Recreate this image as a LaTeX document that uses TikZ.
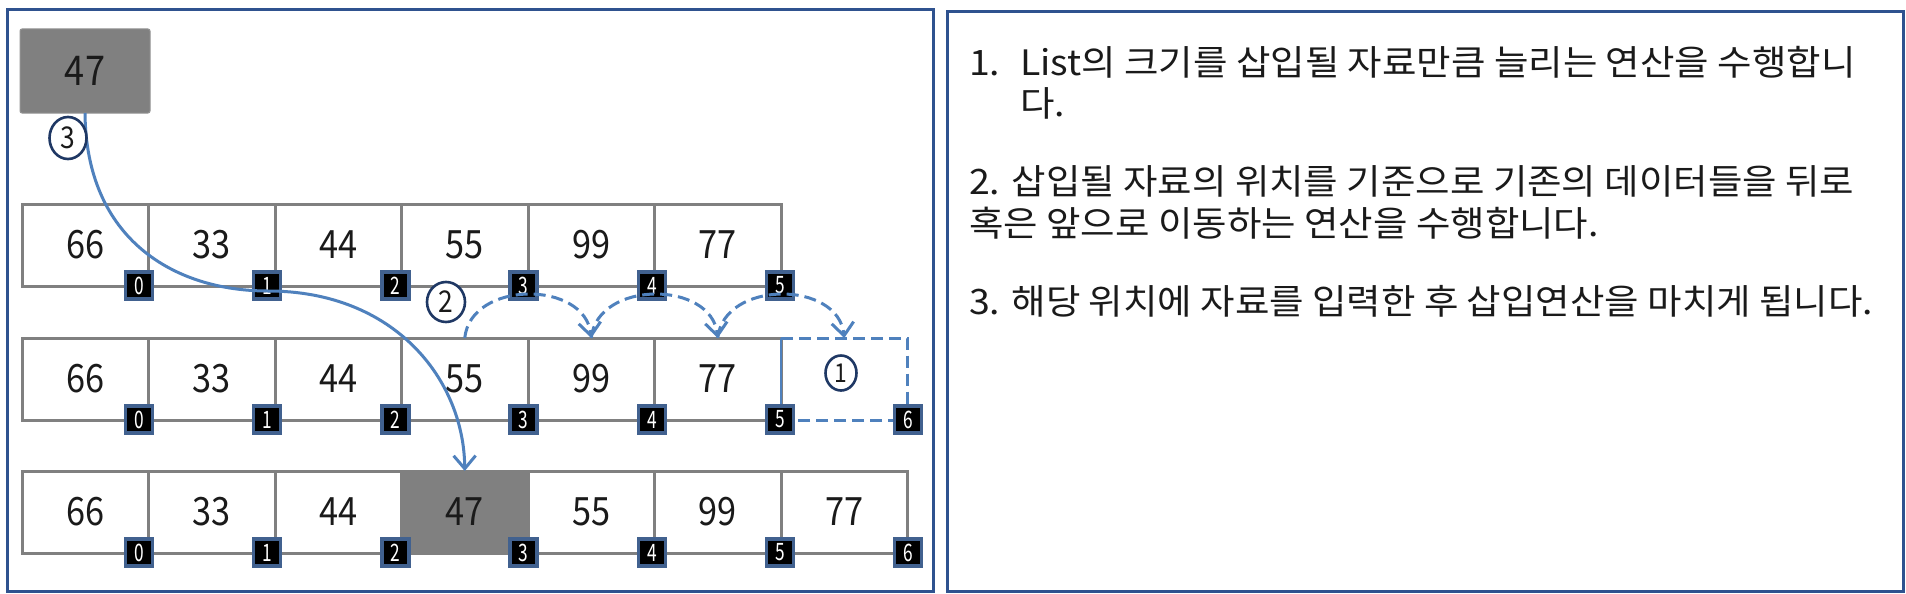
\documentclass[tikz,border=0pt]{standalone}
\usepackage{fontspec}
\setmainfont{Noto Sans CJK KR}
\newfontfamily\korfont[FakeStretch=1.07]{Noto Sans CJK KR}
\newfontfamily\numfont[FakeStretch=0.88]{Noto Sans CJK KR}
\newfontfamily\badgefont[FakeStretch=0.72]{Noto Sans CJK KR}
\usetikzlibrary{arrows.meta,shapes.geometric}
\definecolor{panelblue}{HTML}{2F528F}
\definecolor{arrowblue}{HTML}{4F81BD}
\definecolor{badgeblue}{HTML}{41618F}
\definecolor{cellgray}{HTML}{808080}
\definecolor{circblue}{HTML}{1F3864}
\definecolor{txt}{HTML}{1A1A1A}
\begin{document}
\begin{tikzpicture}[x=1pt,y=-1pt,
  panel/.style={draw=panelblue,line width=3pt,inner sep=0pt,outer sep=0pt,anchor=north west},
  cell/.style={draw=cellgray,line width=3pt,minimum width=126.5pt,minimum height=82pt,
    inner sep=0pt,outer sep=0pt,anchor=north west,text=txt,font=\numfont\fontsize{39}{40}\selectfont},
  graycell/.style={cell,fill=cellgray},
  emptycell/.style={minimum width=126.5pt,minimum height=82pt,inner sep=0pt,outer sep=0pt,anchor=north west},
  badge/.style={draw=badgeblue,line width=3.5pt,fill=black,minimum width=27pt,minimum height=27pt,
    inner sep=0pt,text=white,font=\badgefont\fontsize{24}{24}\selectfont},
  circnum/.style={ellipse,draw=circblue,line width=2.6pt,fill=white,inner sep=0pt,text=txt,
    font=\numfont\fontsize{30}{30}\selectfont},
  mainarrow/.style={draw=arrowblue,line width=3pt,-{Straight Barb[length=13pt,width=22pt,line width=3pt]}},
  dasharrow/.style={draw=arrowblue,line width=3pt,dash pattern=on 12pt off 6pt,
    -{Straight Barb[length=13pt,width=22pt,line width=3pt]}},
  korean/.style={inner sep=0pt,anchor=base west,text=txt,font=\korfont\fontsize{35}{40}\selectfont}
]
\fill[white] (0,0) rectangle (1906,594);
\useasboundingbox (0,0) rectangle (1906,594);

% panels
\node[panel,minimum width=926pt,minimum height=581pt] (leftpanel) at (7,10) {};
\node[panel,minimum width=956pt,minimum height=579pt] (rightpanel) at (947,12) {};

% source box
\node[draw=cellgray!85,line width=1pt,fill=cellgray,rounded corners=2pt,minimum width=130pt,minimum height=84pt,
  inner sep=0pt,outer sep=0pt,anchor=north west,text=txt,font=\numfont\fontsize{41}{41}\selectfont] (src) at (20,29) {47};

% row 1
\foreach \v [count=\i from 0] in {66,33,44,55,99,77}
  \node[cell] (a\i) at ({22+126.5*\i},204) {\v};
% row 2
\foreach \v [count=\i from 0] in {66,33,44,55,99,77}
  \node[cell] (b\i) at ({22+126.5*\i},338) {\v};
\node[emptycell] (b6) at (781,338) {};
\draw[arrowblue,line width=3pt,dash pattern=on 12pt off 6pt] (b6.north west) -- (b6.north east) -- (b6.south east) -- (b6.south west);
\draw[arrowblue,line width=1.5pt] (b6.north west) -- (b6.south west);
% row 3
\foreach \v [count=\i from 0] in {66,33,44}
  \node[cell] (c\i) at ({22+126.5*\i},471) {\v};
\node[graycell] (c3) at ({22+126.5*3},471) {47};
\foreach \v [count=\i from 4] in {55,99,77}
  \node[cell] (c\i) at ({22+126.5*\i},471) {\v};

% badges
\foreach \i in {0,...,5}
  \node[badge] (ia\i) at ({139+128.2*\i},285.5) {\i};
\foreach \i in {0,...,6}
  \node[badge] (ib\i) at ({139+128.2*\i},419.5) {\i};
\foreach \i in {0,...,6}
  \node[badge] (ic\i) at ({139+128.2*\i},552.5) {\i};

% shift arrows
\draw[dasharrow] (b3.north) .. controls +(6,-58) and +(-6,-58) .. (b4.north);
\draw[dasharrow] (b4.north) .. controls +(6,-58) and +(-6,-58) .. (b5.north);
\draw[dasharrow] (b5.north) .. controls +(6,-58) and +(-6,-58) .. (b6.north);

% insertion arrow
\coordinate (mid) at (268,291);
\draw[mainarrow] (src.south) .. controls (86,240) and (175,291) .. (mid)
  .. controls (395,291) and (464,380) .. (c3.north);

% circled numbers
\node[circnum,minimum width=37pt,minimum height=42pt] (s3) at (68,138) {3};
\node[circnum,minimum width=38pt,minimum height=40pt] (s2) at (446,302) {2};
\node[circnum,minimum width=31pt,minimum height=35pt,font=\numfont\fontsize{26}{26}\selectfont] (s1) at (841,373) {1};

% explanation text
\node[korean] (t1n) at (969,76) {1.};
\node[korean] (t1a) at (1020,76) {List의 크기를 삽입될 자료만큼 늘리는 연산을 수행합니};
\node[korean] (t1b) at (1020,116) {다.};
\node[korean] (t2a) at (969,194) {2. 삽입될 자료의 위치를 기준으로 기존의 데이터들을 뒤로};
\node[korean] (t2b) at (969,236) {혹은 앞으로 이동하는 연산을 수행합니다.};
\node[korean] (t3) at (969,314) {3. 해당 위치에 자료를 입력한 후 삽입연산을 마치게 됩니다.};
\end{tikzpicture}
\end{document}
